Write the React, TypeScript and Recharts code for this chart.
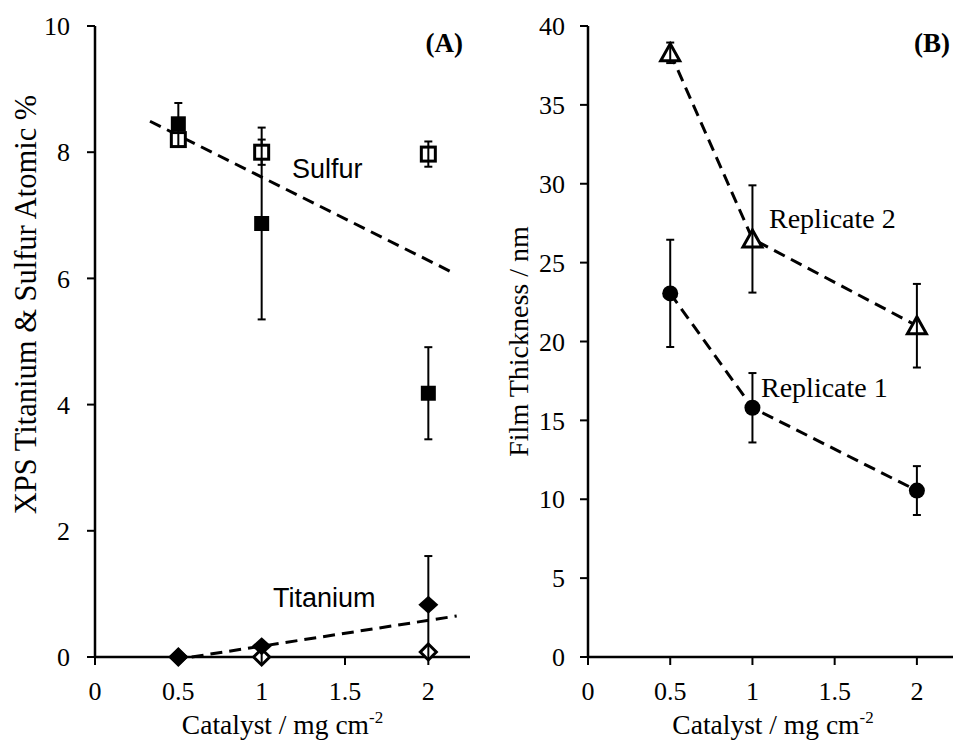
import React from 'react';
import { ScatterChart, Scatter, XAxis, YAxis, ErrorBar } from 'recharts';

// catalyst loadings, mg cm-2
const loadings = [0.5, 1, 2];

// (A) XPS atomic %
const sulfurFilled = [8.45, 6.87, 4.18];
const sulfurFilledErr = [0.33, 1.52, 0.73];
const sulfurOpen = [8.2, 8.0, 7.97];
const sulfurOpenErr = [0.1, 0.2, 0.2];
const titaniumFilled = [0, 0.17, 0.83];
const titaniumFilledErr = [0, 0, 0.77];
const titaniumOpen = [0, 0, 0.08];
const titaniumOpenErr = [0, 0, 0.05];

// dashed trend lines (end points)
const sulfurTrendX = [0.33, 2.14];
const sulfurTrendY = [8.49, 6.1];
const titaniumTrendX = [0.58, 2.17];
const titaniumTrendY = [0, 0.65];

// (B) film thickness, nm
const replicate1 = [23.05, 15.8, 10.55];
const replicate1Err = [3.4, 2.2, 1.55];
const replicate2 = [38.3, 26.5, 21.0];
const replicate2Err = [0.65, 3.4, 2.65];

const xTicks = [0, 0.5, 1, 1.5, 2];
const yTicksA = [0, 2, 4, 6, 8, 10];
const yTicksB = [0, 5, 10, 15, 20, 25, 30, 35, 40];

const serif = '"Liberation Serif", "Times New Roman", serif';
const sans = '"Liberation Sans", Arial, sans-serif';

const toPoints = (xs: number[], ys: number[], errs?: number[]) =>
  xs.map((x, i) => ({ x, y: ys[i], err: errs ? errs[i] : 0 }));

const axisLine = { stroke: '#000', strokeWidth: 2.5 };
const tickLine = { stroke: '#000', strokeWidth: 2 };
const dashed = { stroke: '#000', strokeWidth: 3, strokeDasharray: '12 7' };

// serif tick labels
const makeTick = (vertical: boolean) => (props: any) => (
  <text
    x={props.x}
    y={props.y}
    dy={vertical ? '0.355em' : '0.71em'}
    textAnchor={props.textAnchor}
    fontFamily={serif}
    fontSize={26}
    fill="#000"
  >
    {props.payload.value}
  </text>
);
const xTick = makeTick(false);
const yTick = makeTick(true);

// marker shapes
const FilledSquare = ({ cx, cy }: any) => (
  <rect x={cx - 7.5} y={cy - 7.5} width={15} height={15} fill="#000" />
);
const OpenSquare = ({ cx, cy }: any) => (
  <g>
    <rect x={cx - 7} y={cy - 7} width={14} height={14} fill="#fff" stroke="#000" strokeWidth={3} />
    <line x1={cx} x2={cx} y1={cy - 7} y2={cy + 7} stroke="#000" strokeWidth={2} />
  </g>
);
const FilledDiamond = ({ cx, cy }: any) => (
  <polygon points={`${cx},${cy - 9} ${cx + 10},${cy} ${cx},${cy + 9} ${cx - 10},${cy}`} fill="#000" />
);
const OpenDiamond = ({ cx, cy }: any) => (
  <g>
    <polygon
      points={`${cx},${cy - 8} ${cx + 8},${cy} ${cx},${cy + 8} ${cx - 8},${cy}`}
      fill="#fff"
      stroke="#000"
      strokeWidth={3}
    />
    <line x1={cx} x2={cx} y1={cy - 8} y2={cy + 8} stroke="#000" strokeWidth={2} />
  </g>
);
const OpenTriangle = ({ cx, cy }: any) => (
  <g>
    <polygon
      points={`${cx},${cy - 9} ${cx + 9.5},${cy + 8} ${cx - 9.5},${cy + 8}`}
      fill="#fff"
      stroke="#000"
      strokeWidth={3}
    />
    <line x1={cx} x2={cx} y1={cy - 9} y2={cy + 8} stroke="#000" strokeWidth={2} />
  </g>
);
const FilledCircle = ({ cx, cy }: any) => <circle cx={cx} cy={cy} r={8} fill="#000" />;
const NoMarker = () => <g />;

const XTitle = ({ viewBox }: any) => {
  const { x, y, width } = viewBox;
  return (
    <text x={x + width / 2} y={y + 77} textAnchor="middle" fontFamily={serif} fontSize={27.5} fill="#000">
      Catalyst / mg cm
      <tspan fontSize={17} dy={-11}>
        -2
      </tspan>
    </text>
  );
};

const YTitle = ({ viewBox, caption, bx, my, size }: any) => {
  const cx = viewBox.x + bx;
  const cy = viewBox.y + viewBox.height / 2 + my;
  return (
    <text
      x={cx}
      y={cy}
      transform={`rotate(-90 ${cx} ${cy})`}
      textAnchor="middle"
      fontFamily={serif}
      fontSize={size}
      fill="#000"
    >
      {caption}
    </text>
  );
};

const ErrBars = () => (
  <ErrorBar dataKey="err" direction="y" width={4} stroke="#000" strokeWidth={2} />
);

const PanelA = () => (
  <ScatterChart width={480} height={741} margin={{ top: 26, right: 10, bottom: 0, left: 0 }}>
    <XAxis
      type="number"
      dataKey="x"
      domain={[0, 2.25]}
      ticks={xTicks}
      height={84}
      axisLine={axisLine}
      tickLine={tickLine}
      tickSize={8}
      tickMargin={17}
      tick={xTick}
      label={<XTitle />}
    />
    <XAxis xAxisId="top" orientation="top" type="number" dataKey="x" domain={[0, 2.25]} height={0} axisLine={axisLine} tick={false} tickLine={false} />
    <YAxis
      type="number"
      dataKey="y"
      domain={[0, 10]}
      ticks={yTicksA}
      width={95}
      axisLine={axisLine}
      tickLine={tickLine}
      tickSize={8}
      tickMargin={17}
      tick={yTick}
      label={<YTitle caption="XPS Titanium & Sulfur Atomic %" bx={36} my={-37} size={30.5} />}
    />
    <YAxis yAxisId="right" orientation="right" type="number" dataKey="y" domain={[0, 10]} width={0} axisLine={axisLine} tick={false} tickLine={false} />

    <Scatter data={toPoints(sulfurTrendX, sulfurTrendY)} line={dashed} shape={NoMarker} isAnimationActive={false} />
    <Scatter data={toPoints(titaniumTrendX, titaniumTrendY)} line={dashed} shape={NoMarker} isAnimationActive={false} />

    <Scatter data={toPoints(loadings, sulfurFilled, sulfurFilledErr)} shape={FilledSquare} isAnimationActive={false}>
      <ErrBars />
    </Scatter>
    <Scatter data={toPoints(loadings, sulfurOpen, sulfurOpenErr)} shape={OpenSquare} isAnimationActive={false}>
      <ErrBars />
    </Scatter>
    <Scatter data={toPoints(loadings, titaniumOpen, titaniumOpenErr)} shape={OpenDiamond} isAnimationActive={false}>
      <ErrBars />
    </Scatter>
    <Scatter data={toPoints(loadings, titaniumFilled, titaniumFilledErr)} shape={FilledDiamond} isAnimationActive={false}>
      <ErrBars />
    </Scatter>
  </ScatterChart>
);

const PanelB = () => (
  <ScatterChart width={478} height={741} margin={{ top: 26, right: 0, bottom: 0, left: 0 }}>
    <XAxis
      type="number"
      dataKey="x"
      domain={[0, 2.25]}
      ticks={xTicks}
      height={84}
      axisLine={axisLine}
      tickLine={tickLine}
      tickSize={8}
      tickMargin={17}
      tick={xTick}
      label={<XTitle />}
    />
    <XAxis xAxisId="top" orientation="top" type="number" dataKey="x" domain={[0, 2.25]} height={0} axisLine={axisLine} tick={false} tickLine={false} />
    <YAxis
      type="number"
      dataKey="y"
      domain={[0, 40]}
      ticks={yTicksB}
      width={108}
      axisLine={axisLine}
      tickLine={tickLine}
      tickSize={8}
      tickMargin={15}
      tick={yTick}
      label={<YTitle caption="Film Thickness / nm" bx={48} my={0} size={28} />}
    />

    <Scatter data={toPoints(loadings, replicate1, replicate1Err)} line={dashed} shape={FilledCircle} isAnimationActive={false}>
      <ErrBars />
    </Scatter>
    <Scatter data={toPoints(loadings, replicate2, replicate2Err)} line={dashed} shape={OpenTriangle} isAnimationActive={false}>
      <ErrBars />
    </Scatter>
  </ScatterChart>
);

export default function App() {
  return (
    <div style={{ position: 'absolute', left: 0, top: 0, width: 953, height: 741, overflow: 'hidden', background: '#fff', fontFamily: serif }}>
      <div style={{ position: 'absolute', left: 0, top: 0 }}>
        <PanelA />
      </div>
      <div style={{ position: 'absolute', left: 480, top: 0 }}>
        <PanelB />
      </div>
      <svg width={953} height={741} style={{ position: 'absolute', left: 0, top: 0, pointerEvents: 'none' }}>
        <text x={463} y={52} textAnchor="end" fontFamily={serif} fontWeight="bold" fontSize={27}>(A)</text>
        <text x={950} y={52} textAnchor="end" fontFamily={serif} fontWeight="bold" fontSize={27}>(B)</text>
        <text x={292} y={178} fontFamily={sans} fontSize={27}>Sulfur</text>
        <text x={273} y={607} fontFamily={sans} fontSize={27}>Titanium</text>
        <text x={769} y={228} fontFamily={serif} fontSize={28}>Replicate 2</text>
        <text x={761} y={397} fontFamily={serif} fontSize={28}>Replicate 1</text>
      </svg>
    </div>
  );
}
